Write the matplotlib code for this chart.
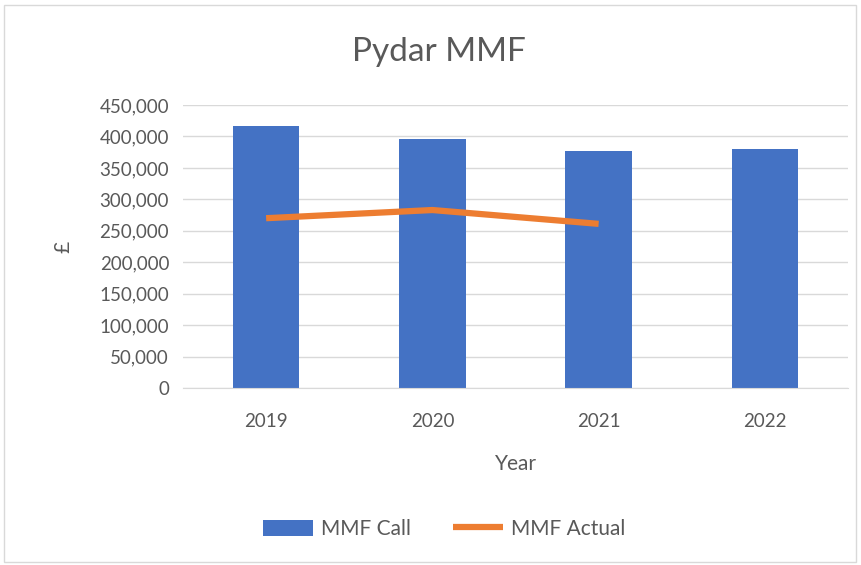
import matplotlib.pyplot as plt
from matplotlib.patches import Rectangle
from matplotlib.ticker import FuncFormatter

years = ["2019", "2020", "2021", "2022"]
mmf_call = [417000, 396000, 377000, 380000]
mmf_actual = [270000, 283000, 261000]

plt.rcParams['font.family'] = ['Lato', 'DejaVu Sans']
grey = "#595959"

fig = plt.figure(figsize=(8.62, 5.65), dpi=100)
ax = fig.add_axes([183/862, 1-388/565, (848-183)/862, (388-105)/565])

x = list(range(len(years)))
bars = ax.bar(x, mmf_call, width=0.4, color="#4472c4", label="MMF Call", zorder=2)
line, = ax.plot(x[:len(mmf_actual)], mmf_actual, color="#ed7d31", lw=4.5,
                solid_capstyle="butt", label="MMF Actual", zorder=3)

ax.set_xlim(-0.5, 3.5)
ax.set_ylim(0, 450000)
ax.set_yticks(range(0, 450001, 50000))
ax.yaxis.set_major_formatter(FuncFormatter(lambda v, p: f"{int(v):,}"))
ax.set_xticks(x)
ax.set_xticklabels(years)
ax.grid(axis="y", color="#d9d9d9", lw=1, zorder=0)
ax.set_axisbelow(True)
for s in ["top", "right", "left"]:
    ax.spines[s].set_visible(False)
ax.spines["bottom"].set_color("#d9d9d9")
ax.tick_params(length=0, labelsize=13.5, colors=grey, pad=10)
ax.tick_params(axis="x", pad=18)

ax.set_xlabel("Year", fontsize=15, color=grey, labelpad=17)
ax.set_ylabel("£", fontsize=15, color=grey, labelpad=19)
fig.text(439/862, 1-52/565, "Pydar MMF", ha="center", va="center", fontsize=24, color=grey)

fig.legend([bars, line], ["MMF Call", "MMF Actual"], loc="center",
           bbox_to_anchor=(444/862, 1-529/565), ncol=2, frameon=False,
           fontsize=15, labelcolor=grey, handlelength=2.4, handletextpad=0.4,
           columnspacing=2.0, handleheight=0.8)

fig.patches.append(Rectangle((4/862, 3/565), 852/862, 557/565, transform=fig.transFigure,
                             fill=False, edgecolor="#d9d9d9", lw=1))

fig.savefig("out.png", dpi=100)
